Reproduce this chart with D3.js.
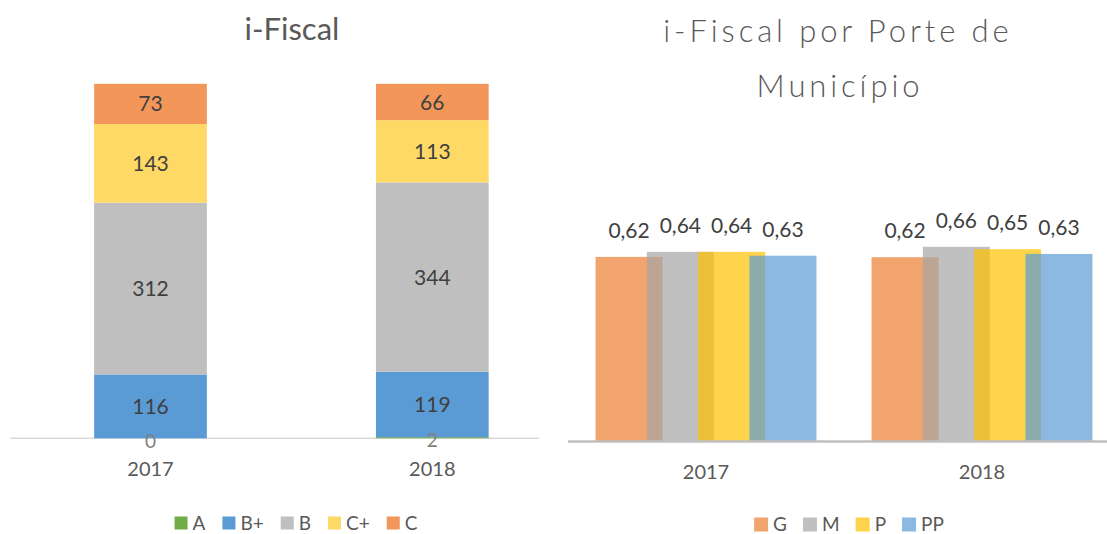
<!DOCTYPE html>
<html>
<head>
<meta charset="utf-8">
<script src="https://cdn.jsdelivr.net/npm/d3@7"></script>
<style>
  body { margin: 0; background: #fff; }
  text { font-family: Lato, "Open Sans", sans-serif; }
</style>
</head>
<body>
<div id="chart"></div>
<script>
// data
var years = ["2017", "2018"];
var grades = ["A", "B+", "B", "C+", "C"];
var gradeA  = [0, 2];
var gradeBp = [116, 119];
var gradeB  = [312, 344];
var gradeCp = [143, 113];
var gradeC  = [73, 66];

var portes = ["G", "M", "P", "PP"];
var porteG  = [0.622, 0.621];
var porteM  = [0.639, 0.656];
var porteP  = [0.639, 0.648];
var portePP = [0.626, 0.632];

var gradeColors = ["#70AD47", "#5B9BD5", "#BFBFBF", "#FFD966", "#F39659"];
var porteColors = ["#ED7D31", "#A5A5A5", "#FFC000", "#5B9BD5"];

var W = 1107, H = 534;

var svg = d3.select("#chart")
  .append("svg")
  .attr("width", W)
  .attr("height", H);

// ---------- left: stacked bars ----------
var rows = years.map(function(y, i) {
  return { year: y, "A": gradeA[i], "B+": gradeBp[i], "B": gradeB[i], "C+": gradeCp[i], "C": gradeC[i] };
});
var stack = d3.stack().keys(grades)(rows);

var x1 = d3.scaleBand()
  .domain(years)
  .range([9.6, 573.2])
  .paddingInner(0.6)
  .paddingOuter(0.3);

var y1 = d3.scaleLinear()
  .domain([0, 700])
  .range([438.3, 53]);

var left = svg.append("g");

left.append("text")
  .attr("x", 292)
  .attr("y", 40)
  .attr("text-anchor", "middle")
  .style("font-size", "31px")
  .style("fill", "#595959")
  .text("i-Fiscal");

left.append("line")
  .attr("x1", 10).attr("x2", 539)
  .attr("y1", y1(0)).attr("y2", y1(0))
  .style("stroke", "#d9d9d9")
  .style("stroke-width", 1.5);

stack.forEach(function(layer, k) {
  left.append("g")
    .selectAll("rect")
    .data(layer)
    .enter()
    .append("rect")
    .attr("x", function(d) { return x1(d.data.year); })
    .attr("width", x1.bandwidth())
    .attr("y", function(d) { return y1(d[1]); })
    .attr("height", function(d) { return y1(d[0]) - y1(d[1]); })
    .style("fill", gradeColors[k]);
});

stack.forEach(function(layer, k) {
  left.append("g")
    .selectAll("text")
    .data(layer)
    .enter()
    .append("text")
    .attr("x", function(d) { return x1(d.data.year) + x1.bandwidth() / 2; })
    .attr("y", function(d) { return (y1(d[0]) + y1(d[1])) / 2; })
    .attr("dy", k == 0 ? "0.5em" : "0.36em")
    .attr("text-anchor", "middle")
    .style("font-size", k == 0 ? "19px" : "21px")
    .style("fill", k == 0 ? "#808080" : "#404040")
    .text(function(d) { return d[1] - d[0]; });
});

left.append("g")
  .selectAll("text")
  .data(years)
  .enter()
  .append("text")
  .attr("x", function(d) { return x1(d) + x1.bandwidth() / 2; })
  .attr("y", 475.5)
  .attr("text-anchor", "middle")
  .style("font-size", "20px")
  .style("fill", "#595959")
  .text(function(d) { return d; });

function legend(g, keys, colors, cx, cy, size, fsize, gap, opacity) {
  var items = g.append("g");
  var pos = 0;
  keys.forEach(function(k, i) {
    var it = items.append("g").attr("transform", "translate(" + pos + ",0)");
    it.append("rect")
      .attr("y", cy - size / 2)
      .attr("width", size).attr("height", size)
      .style("fill", colors[i])
      .style("fill-opacity", opacity);
    var t = it.append("text")
      .attr("x", size + 5)
      .attr("y", cy)
      .attr("dy", "0.36em")
      .style("font-size", fsize + "px")
      .style("fill", "#595959")
      .text(k);
    pos += size + 5 + t.node().getComputedTextLength() + gap;
  });
  var total = pos - gap;
  items.attr("transform", "translate(" + (cx - total / 2) + ",0)");
}

legend(left, grades, gradeColors, 296, 523, 13, 19, 17, 1);

// ---------- right: overlapping clustered bars ----------
var x2 = d3.scaleBand()
  .domain(years)
  .range([568, 1120]);

var y2 = d3.scaleLinear()
  .domain([0, 0.7])
  .range([441, 441 - 0.7 * 296]);

var barW = 67, barStep = 51.3;
var right = svg.append("g");

right.append("text")
  .attr("x", 838)
  .attr("y", 42)
  .attr("text-anchor", "middle")
  .style("font-size", "31px")
  .style("font-weight", 300)
  .style("letter-spacing", "3.9px")
  .style("fill", "#595959")
  .text("i-Fiscal por Porte de");

right.append("text")
  .attr("x", 840)
  .attr("y", 97)
  .attr("text-anchor", "middle")
  .style("font-size", "31px")
  .style("font-weight", 300)
  .style("letter-spacing", "3.9px")
  .style("fill", "#595959")
  .text("Município");

var series = [porteG, porteM, porteP, portePP];

series.forEach(function(vals, k) {
  var bars = right.append("g");
  bars.selectAll("rect")
    .data(vals)
    .enter()
    .append("rect")
    .attr("x", function(d, i) {
      return x2(years[i]) + x2.bandwidth() / 2 + (k - 1.5) * barStep - barW / 2;
    })
    .attr("width", barW)
    .attr("y", function(d) { return y2(d); })
    .attr("height", function(d) { return y2(0) - y2(d); })
    .style("fill", porteColors[k])
    .style("fill-opacity", 0.7);
});

series.forEach(function(vals, k) {
  right.append("g")
    .selectAll("text")
    .data(vals)
    .enter()
    .append("text")
    .attr("x", function(d, i) {
      return x2(years[i]) + x2.bandwidth() / 2 + (k - 1.5) * barStep;
    })
    .attr("y", function(d) { return y2(d) - 19; })
    .attr("text-anchor", "middle")
    .style("font-size", "21px")
    .style("fill", "#404040")
    .text(function(d) { return d3.format(".2f")(d).replace(".", ","); });
});

right.append("line")
  .attr("x1", 568).attr("x2", W)
  .attr("y1", y2(0) + 0.5).attr("y2", y2(0) + 0.5)
  .style("stroke", "#bfbfbf")
  .style("stroke-width", 2.5);

right.append("g")
  .selectAll("text")
  .data(years)
  .enter()
  .append("text")
  .attr("x", function(d) { return x2(d) + x2.bandwidth() / 2; })
  .attr("y", 479)
  .attr("text-anchor", "middle")
  .style("font-size", "20px")
  .style("fill", "#595959")
  .text(function(d) { return d; });

legend(right, portes, porteColors, 849, 524.5, 14, 19, 16, 0.7);
</script>
</body>
</html>
